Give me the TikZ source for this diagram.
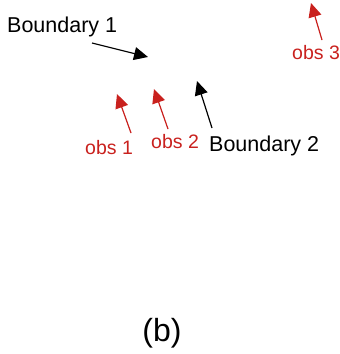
\documentclass[tikz,border=0pt]{standalone}
\usepackage{fontspec}
\setmainfont{Liberation Sans}
\usetikzlibrary{arrows.meta}
\definecolor{obsred}{HTML}{C9211E}
\tikzset{
  x=1pt, y=-1pt,
  lbl/.style={inner sep=0pt, anchor=base west, font=\fontsize{21.5}{25}\selectfont},
  obslbl/.style={inner sep=0pt, anchor=base west, text=obsred, font=\fontsize{19.5}{23}\selectfont},
  pointer/.style={line width=1.2pt, -{Triangle[length=14pt,width=13pt]}},
  obspointer/.style={pointer, draw=obsred, fill=obsred},
}
\begin{document}
\begin{tikzpicture}
\useasboundingbox (0,0) rectangle (340,354);
% labels
\node[lbl] (b1) at (7,32) {Boundary 1};
\node[lbl] (b2) at (209,151) {Boundary 2};
\node[obslbl] (o1) at (85,154) {obs 1};
\node[obslbl] (o2) at (151,148) {obs 2};
\node[obslbl] (o3) at (292,59) {obs 3};
\node[inner sep=0pt, anchor=base, font=\fontsize{32}{36}\selectfont] (cap) at (162,341) {(b)};
% arrow ends
\coordinate (b1s) at (92,43);   \coordinate (b1e) at (148,57);
\coordinate (b2s) at (212,128); \coordinate (b2e) at (197,81);
\coordinate (o1s) at (131,133); \coordinate (o1e) at (117,94);
\coordinate (o2s) at (168,129); \coordinate (o2e) at (154,89);
\coordinate (o3s) at (322,40);  \coordinate (o3e) at (311,3);
% pointers
\draw[pointer] (b1s) -- (b1e);
\draw[pointer] (b2s) -- (b2e);
\draw[obspointer] (o1s) -- (o1e);
\draw[obspointer] (o2s) -- (o2e);
\draw[obspointer] (o3s) -- (o3e);
\end{tikzpicture}
\end{document}
